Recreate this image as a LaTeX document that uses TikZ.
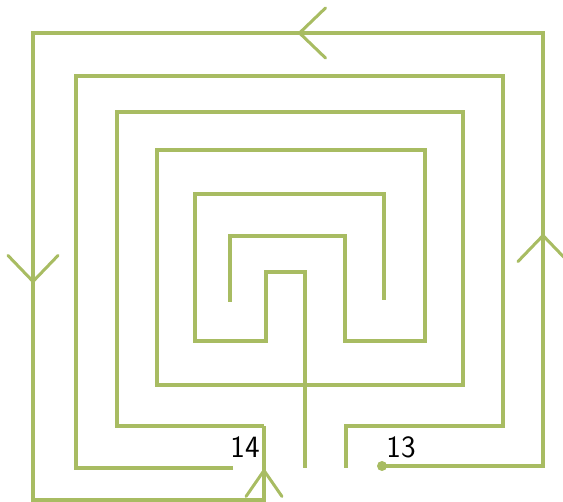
\documentclass[tikz,border=0pt]{standalone}
\usepackage{fontspec}
\usepackage{xcolor}
\usepackage{tikz}
\usetikzlibrary{arrows.meta}
\definecolor{leaf}{RGB}{168,188,98}

\begin{document}
\begin{tikzpicture}[
  x=1pt, y=-1pt,
  wall/.style={draw=leaf, line width=4.5pt, line join=miter},
  inwall/.style={draw=leaf, line width=3.2pt, line join=miter},
  arr/.style={draw=leaf, line width=3pt,
              -{Straight Barb[length=26pt, width=50pt, round]}},
  num/.style={font=\fontsize{31}{31}\selectfont\sffamily, inner sep=0pt}]
\useasboundingbox (0,0) rectangle (563,502);
% outer ring, from the dot round to the centre
\draw[wall] (382,466) -- (543,466) -- (543,33) -- (33,33) -- (33,500)
  -- (264,500) -- (264,426);
\draw[inwall] (264,426) -- (117,426) -- (117,112) -- (463,112) -- (463,385)
  -- (157,385) -- (157,150) -- (425,150) -- (425,341) -- (345,341)
  -- (345,236) -- (230,236) -- (230,302);
% second ring
\draw[wall, line width=4pt] (233,468) -- (76,468) -- (76,76) -- (503,76)
  -- (503,426) -- (346,426) -- (346,468);
% centre
\draw[inwall] (384,300) -- (384,194) -- (195,194) -- (195,341) -- (266,341)
  -- (266,272) -- (305,272) -- (305,468);
\fill[leaf] (382,466) circle (5pt);
% direction marks
\draw[arr] (543,262) -- (543,234);
\draw[arr] (324,33) -- (298,33);
\draw[arr] (33,254) -- (33,283);
\draw[arr, -{Straight Barb[length=26pt, width=36pt, round]}] (264,496) -- (264,469);
\node[num] (n14) at (245,447) {14};
\node[num] (n13) at (401,447) {13};
\end{tikzpicture}
\end{document}
